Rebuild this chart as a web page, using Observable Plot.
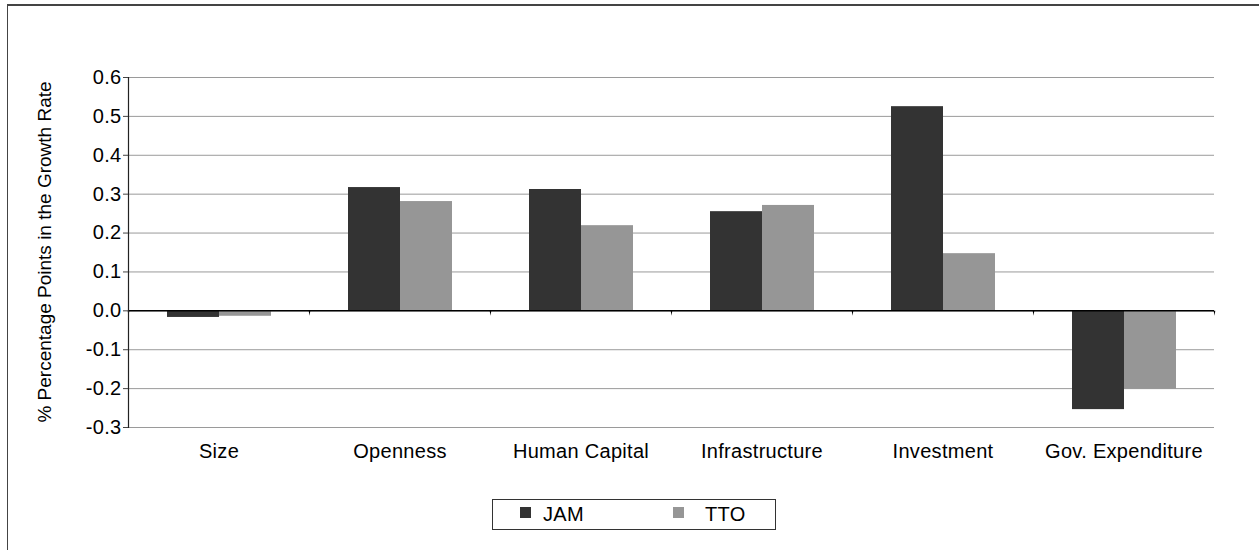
<!DOCTYPE html>
<html>
<head>
<meta charset="utf-8">
<script src="https://cdn.jsdelivr.net/npm/d3@7"></script>
<script src="https://cdn.jsdelivr.net/npm/@observablehq/plot@0.6"></script>
<style>
  html, body { margin: 0; padding: 0; background: #fff; overflow: hidden; }
  #wrap { position: relative; width: 1259px; height: 550px; overflow: hidden; font-family: "Liberation Sans", Arial, sans-serif; }
  #frame { position: absolute; left: 7px; top: 4px; width: 1400px; height: 700px; border-top: 2px solid #444; border-left: 1.5px solid #444; }
  #chart { position: absolute; left: 0; top: 0; }
  #chart svg text { letter-spacing: 0.3px; }
  #ylabel { position: absolute; left: -155px; top: 241px; width: 400px; height: 22px; line-height: 22px; text-align: center; font-size: 19px; color: #000; transform: rotate(-90deg); transform-origin: 50% 50%; white-space: nowrap; }
  #legend { position: absolute; left: 492px; top: 499px; width: 284px; height: 31px; box-sizing: border-box; border: 1.5px solid #333; font-size: 20px; color: #000; letter-spacing: 0.3px; }
  .sw { position: absolute; top: 7px; width: 11px; height: 11px; }
  .lt { position: absolute; top: 3px; line-height: 22px; }
</style>
</head>
<body>
<div id="wrap">
  <div id="frame"></div>
  <div id="chart"></div>
  <div id="ylabel"></div>
  <div id="legend"></div>
</div>
<script>
const categories = ["Size", "Openness", "Human Capital", "Infrastructure", "Investment", "Gov. Expenditure"];
const series = ["JAM", "TTO"];
const jam = [-0.017, 0.317, 0.312, 0.255, 0.525, -0.254];
const tto = [-0.014, 0.281, 0.219, 0.271, 0.147, -0.202];
const colors = ["#333333", "#969696"];
const yTicks = [-0.3, -0.2, -0.1, 0.0, 0.1, 0.2, 0.3, 0.4, 0.5, 0.6];
const yLabel = "% Percentage Points in the Growth Rate";

const rows = categories.flatMap((c, i) => [
  {category: c, series: "JAM", value: jam[i]},
  {category: c, series: "TTO", value: tto[i]}
]);

const tickStyle = {frameAnchor: "left", length: 5, rotate: 180, anchor: "start", shape: "spike", r: 0.8, fill: "#000", stroke: "none"};

const chart = Plot.plot({
  width: 1259,
  height: 480,
  marginLeft: 127,
  marginRight: 45,
  marginTop: 77,
  marginBottom: 53,
  style: {fontFamily: "'Liberation Sans', Arial, sans-serif", fontSize: "20px", color: "#000", background: "transparent"},
  fx: {domain: categories, padding: 0, label: null},
  x: {domain: series, paddingInner: 0, paddingOuter: 0.74, axis: null},
  y: {domain: [-0.3, 0.6]},
  color: {domain: series, range: colors},
  marks: [
    Plot.gridY(yTicks, {stroke: "#9a9a9a", strokeOpacity: 1, strokeWidth: 1}),
    Plot.barY(rows, {fx: "category", x: "series", y: "value", fill: "series"}),
    Plot.ruleY([0], {stroke: "#000", strokeWidth: 1.5}),
    Plot.vector([0], {y: d => d, ...tickStyle}),
    Plot.vector([categories[categories.length - 1]], {fx: d => d, y: 0, ...tickStyle, frameAnchor: "right"}),
    Plot.frame({anchor: "left", facetAnchor: "left", stroke: "#222", strokeWidth: 1.2}),
    Plot.axisY(yTicks, {tickFormat: d => d.toFixed(1), tickSize: 5, tickPadding: 2, label: null, fontSize: 20, stroke: "#444"}),
    Plot.axisFx({anchor: "bottom", tickSize: 0, tickPadding: 16, label: null, fontSize: 20})
  ]
});
document.getElementById("chart").appendChild(chart);
document.getElementById("ylabel").textContent = yLabel;

const legend = document.getElementById("legend");
const swX = [27, 180];
const txX = [50, 212];
series.forEach((s, i) => {
  const sw = document.createElement("div");
  sw.className = "sw";
  sw.style.left = swX[i] + "px";
  sw.style.background = colors[i];
  legend.appendChild(sw);
  const t = document.createElement("div");
  t.className = "lt";
  t.style.left = txX[i] + "px";
  t.textContent = s;
  legend.appendChild(t);
});
</script>
</body>
</html>
